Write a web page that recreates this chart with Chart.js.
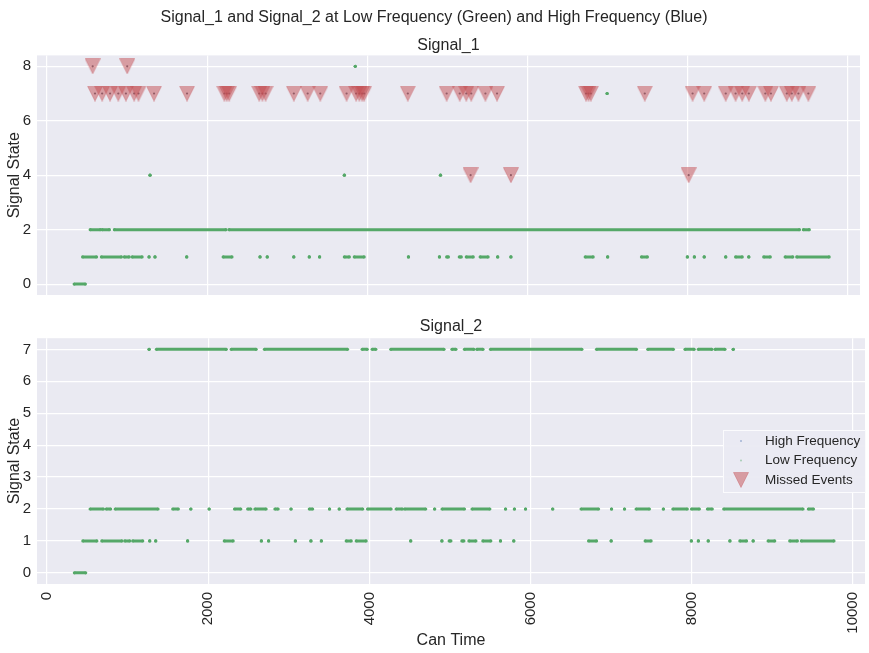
<!DOCTYPE html>
<html>
<head>
<meta charset="utf-8">
<script src="https://cdn.jsdelivr.net/npm/chart.js@4.4.1/dist/chart.umd.min.js"></script>
<style>
  html, body { margin: 0; padding: 0; background: #fff; }
  #wrap { position: relative; width: 869px; height: 653px; }
  canvas { position: absolute; left: 0; }
  #sig1 { top: 0; }
  #sig2 { top: 310px; }
</style>
</head>
<body>
<div id="wrap">
  <canvas id="sig1" width="869" height="310"></canvas>
  <canvas id="sig2" width="869" height="343"></canvas>
</div>
<script>
// ticks
const xTicks = [0, 2000, 4000, 6000, 8000, 10000];
const sig1YTicks = [0, 2, 4, 6, 8];
const sig2YTicks = [0, 1, 2, 3, 4, 5, 6, 7];

// low frequency samples, as runs [start, end] of Can Time for each state
const sig1State0 = [[340, 480]];
const sig1State1 = [[445, 619], [680, 930], [965, 1027], [1064, 1188], [1275, 1275], [1349, 1349], [1745, 1745],
  [2200, 2310], [2660, 2660], [2750, 2750], [3082, 3082], [3275, 3275], [3404, 3404], [3713, 3775], [3837, 3960],
  [4513, 4513], [4900, 4900], [4990, 5012], [5148, 5173], [5235, 5322], [5408, 5507], [5627, 5627], [5792, 5792],
  [6720, 6819], [7000, 7000], [7422, 7496], [7995, 7995], [8082, 8082], [8205, 8205], [8474, 8474], [8597, 8680],
  [8762, 8762], [8948, 9030], [9216, 9311], [9360, 9765]];
const sig1State2 = [[540, 668], [689, 780], [842, 2235], [2273, 9394], [9443, 9517]];
const sig1State4 = [[1287, 1287], [3713, 3713], [4913, 4913]];
const sig1State7 = [[6993, 6993]];
const sig1State8 = [[3849, 3849]];

const sig2State0 = [[340, 480]];
const sig2State1 = sig1State1; // same pattern as Signal_1
const sig2State2 = [[535, 700], [735, 790], [846, 1378], [1560, 1630], [1785, 1785], [2012, 2012], [2327, 2405],
  [2490, 2530], [2580, 2719], [2828, 2868], [3028, 3028], [3255, 3296], [3506, 3506], [3626, 3626], [3722, 3918],
  [3977, 4270], [4332, 4410], [4437, 4699], [4810, 4810], [4902, 5180], [5274, 5495], [5690, 5690], [5800, 5800],
  [5938, 5938], [6275, 6275], [6627, 6844], [7005, 7005], [7166, 7166], [7310, 7475], [7648, 7648], [7766, 7945],
  [7997, 8095], [8195, 8255], [8397, 9381], [9447, 9511]];
const sig2State7 = [[1267, 1267], [1358, 2224], [2286, 2595], [2698, 3729], [3911, 3973], [4035, 4080], [4266, 4926],
  [5025, 5074], [5180, 5297], [5334, 5410], [5503, 6637], [6819, 7314], [7455, 7772], [7917, 8030], [8082, 8250],
  [8290, 8412], [8515, 8515]];

// missed events (Signal_1), Can Time per state
const missedState8 = [571, 1002];
const missedState7 = [600, 689, 788, 891, 986, 1089, 1143, 1337, 1749, 2215, 2245, 2275, 2650, 2690, 2730, 3082,
  3255, 3412, 3741, 3860, 3900, 3935, 3960, 4505, 4990, 5153, 5235, 5297, 5474, 5619, 6730, 6760, 6790, 7463,
  8060, 8205, 8474, 8597, 8680, 8762, 8968, 9038, 9236, 9298, 9381, 9505];
const missedState4 = [5289, 5792, 8011];

const GREEN = '#55a868';
const PLOT_BG = '#eaeaf2';
const TEXT = '#262626';

Chart.defaults.font.family = '"Liberation Sans", Arial, sans-serif';
Chart.defaults.color = TEXT;

function runPoints(runs, state) {
  const pts = [];
  runs.forEach(([a, b]) => {
    pts.push({ x: a, y: state }, { x: b, y: state }, { x: b, y: null });
  });
  return pts;
}

function eventPoints(xs, state) {
  return xs.map(x => ({ x: x, y: state }));
}

// matplotlib style 'v' marker, centred on its box
function makeTriangle(size) {
  const c = document.createElement('canvas');
  c.width = size; c.height = size;
  const g = c.getContext('2d');
  g.beginPath();
  g.moveTo(0.5, 0.5);
  g.lineTo(size - 0.5, 0.5);
  g.lineTo(size / 2, size - 0.5);
  g.closePath();
  g.fillStyle = 'rgba(196, 78, 82, 0.5)';
  g.fill();
  g.strokeStyle = 'rgba(196, 78, 82, 0.35)';
  g.lineWidth = 1;
  g.stroke();
  return c;
}
const triangle = makeTriangle(16);

const plotBg = {
  id: 'plotBg',
  beforeDraw(chart) {
    const a = chart.chartArea;
    chart.ctx.save();
    chart.ctx.fillStyle = PLOT_BG;
    chart.ctx.fillRect(a.left, a.top, a.right - a.left, a.bottom - a.top);
    chart.ctx.restore();
  }
};

const boxLegend = {
  id: 'boxLegend',
  afterDraw(chart) {
    const ctx = chart.ctx;
    const x0 = 723, y0 = 120, w = 143, h = 63;
    ctx.save();
    ctx.fillStyle = 'rgba(234, 234, 242, 0.95)';
    ctx.fillRect(x0, y0, w, h);
    ctx.strokeStyle = 'rgba(255, 255, 255, 0.8)';
    ctx.lineWidth = 1;
    ctx.strokeRect(x0 + 0.5, y0 + 0.5, w - 1, h - 1);
    ctx.font = '13.5px "Liberation Sans", Arial, sans-serif';
    ctx.textBaseline = 'middle';
    const rows = [
      { label: 'High Frequency', kind: 'dot', color: 'rgba(76,114,176,0.45)' },
      { label: 'Low Frequency', kind: 'dot', color: 'rgba(85,168,104,0.45)' },
      { label: 'Missed Events', kind: 'tri' }
    ];
    rows.forEach((r, i) => {
      const y = 131 + i * 19.5;
      if (r.kind === 'dot') {
        ctx.fillStyle = r.color;
        ctx.beginPath();
        ctx.arc(741, y, 1, 0, Math.PI * 2);
        ctx.fill();
      } else {
        ctx.drawImage(triangle, 741 - 8, y - 8);
      }
      ctx.fillStyle = TEXT;
      ctx.fillText(r.label, 765, y);
    });
    ctx.restore();
  }
};

function gridOpts() {
  return { color: '#ffffff', lineWidth: 1.2, drawTicks: false };
}

function xScale(showTicks) {
  return {
    type: 'linear',
    min: -124,
    max: 10150,
    afterBuildTicks: s => { s.ticks = xTicks.map(v => ({ value: v })); },
    afterFit: s => { s.height = showTicks ? 69 : 0; s.paddingLeft = 0; s.paddingRight = 0; },
    grid: gridOpts(),
    border: { display: false },
    ticks: {
      display: showTicks,
      autoSkip: false,
      minRotation: 90,
      maxRotation: 90,
      padding: 8,
      font: { size: 15 },
      callback: v => String(v)
    },
    title: {
      display: showTicks,
      text: 'Can Time',
      font: { size: 16 },
      padding: { top: 0, bottom: 3 }
    }
  };
}

function yScale(min, max, ticks) {
  return {
    min: min,
    max: max,
    afterBuildTicks: s => { s.ticks = ticks.map(v => ({ value: v })); },
    afterFit: s => { s.width = 37; },
    grid: gridOpts(),
    border: { display: false },
    ticks: { padding: 6, font: { size: 15 }, callback: v => String(v) },
    title: {
      display: true,
      text: 'Signal State',
      font: { size: 16 },
      padding: { top: 5, bottom: 0 }
    }
  };
}

function datasets(lowPts, eventPts) {
  return [
    {
      label: 'Missed Events',
      data: eventPts,
      pointStyle: triangle,
      pointRadius: 8,
      order: 0
    },
    {
      label: 'Low Frequency',
      data: lowPts,
      showLine: true,
      spanGaps: false,
      borderColor: GREEN,
      borderWidth: 3,
      pointRadius: 1.6,
      pointBorderWidth: 0,
      pointBackgroundColor: GREEN,
      order: 1
    },
    {
      label: 'High Frequency',
      data: eventPts,
      pointRadius: 1.1,
      pointBorderWidth: 0,
      pointBackgroundColor: 'rgba(60,70,90,0.8)',
      order: 2
    }
  ];
}

document.addEventListener('DOMContentLoaded', () => {
  const low1 = [].concat(
    runPoints(sig1State0, 0), runPoints(sig1State1, 1), runPoints(sig1State2, 2),
    runPoints(sig1State4, 4), runPoints(sig1State7, 7), runPoints(sig1State8, 8)
  );
  const events1 = [].concat(
    eventPoints(missedState8, 8), eventPoints(missedState7, 7), eventPoints(missedState4, 4)
  );
  const low2 = [].concat(
    runPoints(sig2State0, 0), runPoints(sig2State1, 1), runPoints(sig2State2, 2), runPoints(sig2State7, 7)
  );

  new Chart(document.getElementById('sig1'), {
    type: 'scatter',
    data: { datasets: datasets(low1, events1) },
    options: {
      responsive: false,
      animation: false,
      layout: { padding: { left: 0, right: 1, top: 0, bottom: 8 } },
      plugins: {
        legend: { display: false },
        tooltip: { enabled: false },
        title: {
          display: true,
          text: 'Signal_1 and Signal_2 at Low Frequency (Green) and High Frequency (Blue)',
          font: { size: 16, weight: 'normal' },
          color: TEXT,
          padding: { top: 8, bottom: 9 }
        },
        subtitle: {
          display: true,
          text: 'Signal_1',
          fullSize: false,
          font: { size: 16 },
          color: TEXT,
          padding: { top: 0, bottom: 0 }
        }
      },
      scales: { x: xScale(false), y: yScale(-0.4, 8.4, sig1YTicks) }
    },
    plugins: [plotBg]
  });

  new Chart(document.getElementById('sig2'), {
    type: 'scatter',
    data: { datasets: datasets(low2, []) },
    options: {
      responsive: false,
      animation: false,
      layout: { padding: { left: 0, right: 1, top: 0, bottom: 0 } },
      plugins: {
        legend: { display: false },
        tooltip: { enabled: false },
        title: {
          display: true,
          text: 'Signal_2',
          fullSize: false,
          font: { size: 16, weight: 'normal' },
          color: TEXT,
          padding: { top: 7, bottom: 2 }
        }
      },
      scales: { x: xScale(true), y: yScale(-0.35, 7.35, sig2YTicks) }
    },
    plugins: [plotBg, boxLegend]
  });
});
</script>
</body>
</html>
